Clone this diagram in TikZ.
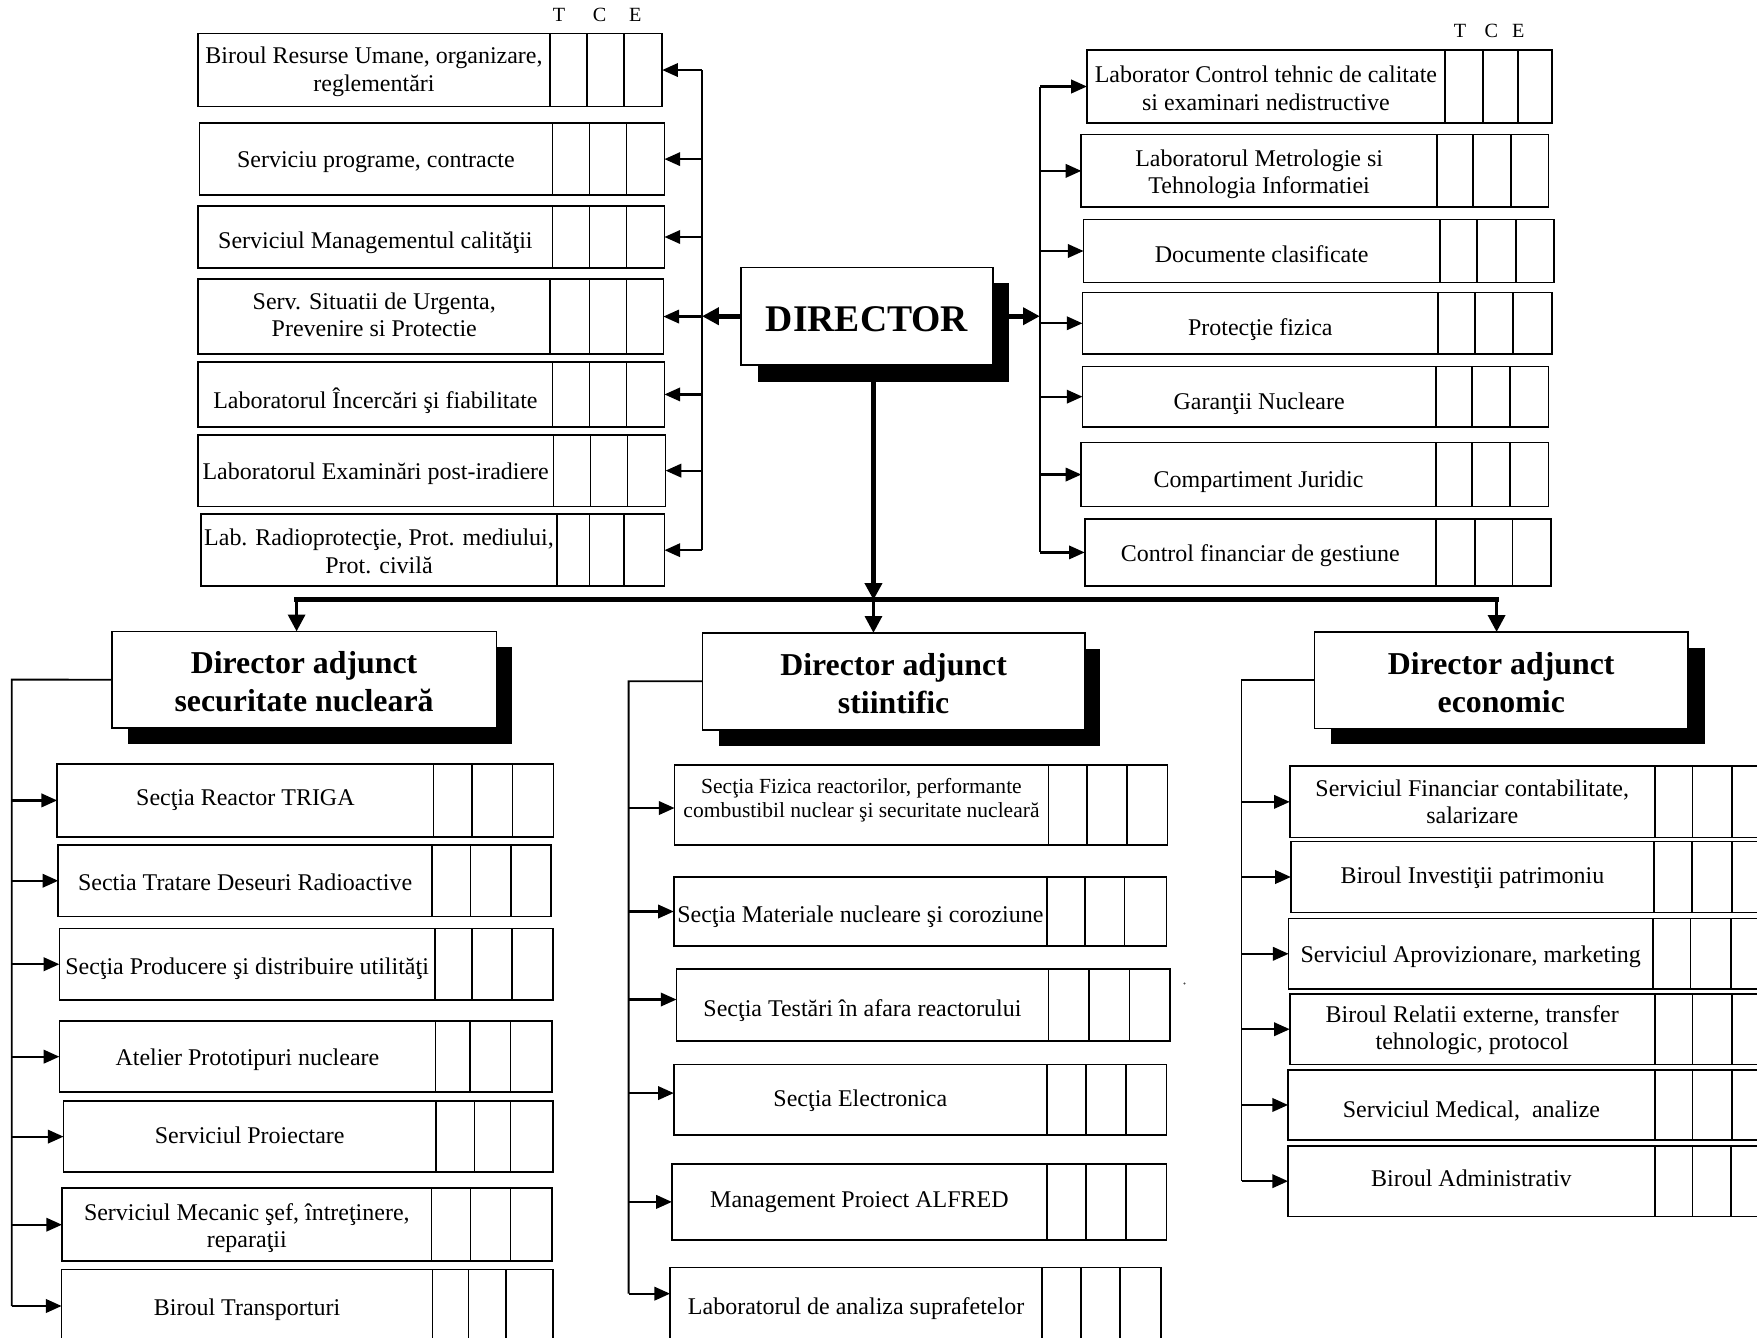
\documentclass[tikz,border=0pt]{standalone}
\usepackage{fontspec}
\setmainfont{Liberation Serif}
\usetikzlibrary{arrows.meta}
\newcommand\lblfont{\fontsize{10.7}{12.3}\selectfont}
\tikzset{
  bx/.style={draw, line width=0.75pt, fill=white, inner sep=0pt, outer sep=0pt, anchor=north west},
  cl/.style={line width=0.75pt},
  lbl/.style={align=center, inner sep=0pt, font=\lblfont},
  hd/.style={align=center, inner sep=0pt, font=\fontsize{14.2}{17}\selectfont\bfseries},
  hdir/.style={inner sep=0pt, font=\fontsize{16.8}{20}\selectfont\bfseries},
  tce/.style={inner sep=0pt, font=\fontsize{9}{10}\selectfont},
  arr/.style={line width=1pt, -{Triangle[length=7pt,width=6pt]}},
  bus/.style={line width=0.8pt},
  thk/.style={line width=2.2pt, -{Triangle[length=7.5pt,width=7.5pt]}},
  thkd/.style={line width=1.6pt, -{Triangle[length=7.5pt,width=7.5pt]}},
  barline/.style={line width=2.2pt, line cap=rect},
  shd/.style={fill=black},
}
\newcommand\tys{0pt}
\newcommand\ob[9]{%
  \node[bx, minimum width={(#7-#2)*0.5pt}, minimum height={(#8-#3)*0.5pt}] (#1) at (#2,#3) {};
  \draw[cl] (#4,#3) -- (#4,#8) (#5,#3) -- (#5,#8) (#6,#3) -- (#6,#8);
  \node[lbl, yshift=\tys-1.5pt] (#1t) at ({(#2+#4)/2},{(#3+#8)/2}) {#9};
}
\begin{document}
\begin{tikzpicture}[x=0.5pt, y=-0.5pt]
\useasboundingbox (0,0) rectangle (1568,1194);
\clip (0,0) rectangle (1568,1194);

% ---------- T C E headers
\node[tce] (tl) at (499,13.7) {T};
\node[tce] (cl) at (535,13.7) {C};
\node[tce] (el) at (567,13.7) {E};
\node[tce] (tr) at (1303,27.3) {T};
\node[tce] (cr) at (1331,27.3) {C};
\node[tce] (er) at (1355,27.3) {E};

% ---------- top left boxes
\renewcommand\tys{0.7pt}
\ob{t1}{176.5}{30}{491}{524}{557}{591}{95}{Biroul Resurse Umane, organizare,\\reglementări}
\renewcommand\tys{0pt}
\ob{t2}{178}{110}{493}{526}{559}{593}{174}{Serviciu programe, contracte}
\renewcommand\tys{-1.2pt}
\ob{t3}{177}{184}{493}{526}{559}{593}{239}{Serviciul Managementul calităţii}
\renewcommand\tys{2.2pt}
\ob{t4}{177}{249}{491}{526}{559}{592}{316}{Serv. Situatii de Urgenta,\\Prevenire si Protectie}
\renewcommand\tys{-1.5pt}
\ob{t5}{177}{323}{493}{526}{559}{593}{381}{Laboratorul Încercări şi fiabilitate}
\renewcommand\tys{0pt}
\ob{t6}{176.5}{388}{494}{527}{560}{594}{452}{Laboratorul Examinări post-iradiere}
\renewcommand\tys{1pt}
\ob{t7}{179.5}{459}{497}{526}{557}{593}{523}{Lab. Radioprotecţie, Prot. mediului,\\Prot. civilă}

% ---------- top right boxes
\renewcommand\tys{0.8pt}
\ob{r1}{970}{44.4}{1289.4}{1323.3}{1354.8}{1385}{110}{Laborator Control tehnic de calitate\\si examinari nedistructive}
\renewcommand\tys{0pt}
\ob{r2}{965}{120}{1282.4}{1314.3}{1348.3}{1382}{185}{Laboratorul Metrologie si\\Tehnologia Informatiei}
\ob{r3}{967}{196}{1285}{1318}{1353}{1387}{252}{Documente clasificate}
\renewcommand\tys{-1.5pt}
\ob{r4}{966}{261}{1283.4}{1316.4}{1350.3}{1385}{316}{Protecţie fizica}
\ob{r5}{966}{327}{1281.4}{1313.4}{1347.8}{1382}{381}{Garanţii Nucleare}
\ob{r6}{965}{395}{1281.4}{1313.4}{1347.8}{1382}{452}{Compartiment Juridic}
\renewcommand\tys{0pt}
\ob{r7}{968}{463}{1281.4}{1316.3}{1349.8}{1384}{523}{Control financiar de gestiune}

% ---------- DIRECTOR
\fill[shd] (676.8,252.8) rectangle (900.2,340.7);
\node[bx, minimum width={(886.3-661.3)*0.5pt}, minimum height={(325.8-238.6)*0.5pt}] (dir) at (661.3,238.6) {};
\node[hdir, yshift=-1.2pt] (dirt) at (dir.center) {DIRECTOR};

% ---------- deputy directors
\fill[shd] (114.4,577.4) rectangle (457,664);
\node[bx, minimum width={(443-99.7)*0.5pt}, minimum height={(649.6-563.5)*0.5pt}] (da1) at (99.7,563.5) {};
\node[hd, yshift=-1pt] (da1t) at (da1.center) {Director adjunct\\securitate nucleară};
\fill[shd] (641.6,579) rectangle (982,666);
\node[bx, minimum width={(968-627)*0.5pt}, minimum height={(651.3-564.8)*0.5pt}] (da2) at (627,564.8) {};
\node[hd, yshift=-1pt] (da2t) at (da2.center) {Director adjunct\\stiintific};
\fill[shd] (1187.9,578) rectangle (1521.4,664);
\node[bx, minimum width={(1506.5-1173)*0.5pt}, minimum height={(650-564)*0.5pt}] (da3) at (1173,564) {};
\node[hd, yshift=-1pt] (da3t) at (da3.center) {Director adjunct\\economic};

% ---------- bottom left boxes
\renewcommand\tys{1.6pt}
\ob{l1}{51}{681.6}{387}{421}{457.3}{494}{747}{Secţia Reactor TRIGA}
\renewcommand\tys{1pt}
\ob{l2}{52}{754}{385.5}{420}{456}{492}{818}{Sectia Tratare Deseuri Radioactive}
\renewcommand\tys{-0.7pt}
\ob{l3}{53}{828.6}{388}{421}{457}{493.5}{892.4}{Secţia Producere şi distribuire utilităţi}
\renewcommand\tys{0pt}
\ob{l4}{53}{911.3}{388.6}{419.4}{455.6}{492.5}{974.7}{Atelier Prototipuri nucleare}
\renewcommand\tys{2.2pt}
\ob{l5}{56.7}{982.7}{389}{423.5}{455.6}{493.5}{1046}{Serviciul Proiectare}
\renewcommand\tys{0pt}
\ob{l6}{55.3}{1060.4}{385.2}{420}{455.6}{492.5}{1125.5}{Serviciul Mecanic şef, întreţinere,\\reparaţii}
\ob{l7}{55}{1133}{386}{418}{451.5}{493.5}{1198}{Biroul Transporturi}

% ---------- middle boxes
\renewcommand\tys{3.5pt}
\renewcommand\lblfont{\fontsize{9.6}{11}\selectfont}
\ob{m1}{602}{682.4}{935.6}{969.8}{1005.6}{1042}{753.8}{Secţia Fizica reactorilor, performante\\combustibil nuclear şi securitate nucleară}
\renewcommand\lblfont{\fontsize{10.7}{12.3}\selectfont}
\renewcommand\tys{-0.7pt}
\ob{m2}{601.3}{782.4}{934.3}{968.4}{1003.6}{1041}{844.5}{Secţia Materiale nucleare şi coroziune}
\renewcommand\tys{-1pt}
\ob{m3}{603.7}{865}{935.6}{971.8}{1008}{1044}{929}{Secţia Testări în afara reactorului}
\renewcommand\tys{1.2pt}
\ob{m4}{601.3}{950}{934.3}{969}{1005}{1041}{1013}{Secţia Electronica}
\ob{m5}{599.6}{1038.6}{934.3}{969}{1005}{1041}{1106.6}{Management Proiect ALFRED}
\renewcommand\tys{0pt}
\ob{m6}{598}{1131}{930}{965}{999.8}{1036}{1198}{Laboratorul de analiza suprafetelor}

% ---------- bottom right boxes
\renewcommand\tys{1.5pt}
\ob{e1}{1151}{683.7}{1476.7}{1510.3}{1545.5}{1580}{747.5}{Serviciul Financiar contabilitate,\\salarizare}
\renewcommand\tys{1.3pt}
\ob{e2}{1152}{751}{1476}{1510}{1545.5}{1580}{814.3}{Biroul Investiţii patrimoniu}
\renewcommand\tys{0pt}
\ob{e3}{1150}{819.7}{1475}{1508.5}{1544.5}{1580}{882.7}{Serviciul Aprovizionare, marketing}
\renewcommand\tys{1pt}
\ob{e4}{1151}{887}{1476.7}{1510.3}{1545.5}{1580}{950}{Biroul Relatii externe, transfer\\tehnologic, protocol}
\renewcommand\tys{-1pt}
\ob{e5}{1149.5}{954.6}{1476.7}{1510.3}{1545.5}{1580}{1017.6}{Serviciul Medical,~ analize}
\renewcommand\tys{3pt}
\ob{e6}{1149.5}{1022.6}{1476.7}{1510.3}{1545}{1580}{1085.6}{Biroul Administrativ}
\renewcommand\tys{0pt}

% ---------- connectors from DIRECTOR
\coordinate (lb) at (626.5,282.2);
\coordinate (rb) at (928,282.2);
\draw[thk] (dir.west) -- (lb);
\draw[thk] (dir.east) -- (rb);
\draw[bus] (t1.east -| lb) -- (t7.east -| lb);
\draw[bus] (r1.west -| rb) -- (r7.west -| rb);
\foreach \n in {t1,t2,t3,t4,t5,t6,t7} \draw[arr] (\n.east -| lb) -- (\n.east);
\foreach \n in {r1,r2,r3,r4,r5,r6,r7} \draw[arr] (\n.west -| rb) -- (\n.west);

\coordinate (j1) at (264.7,535.4);
\coordinate (j2) at (779.5,535.4);
\coordinate (j3) at (1335.6,535.4);
\draw[thk] (dir.south -| j2) -- (j2);
\draw[barline] (j1) -- (j3);
\draw[thkd] (j1) -- (j1 |- da1.north);
\draw[thkd] (j2) -- (j2 |- da2.north);
\draw[thkd] (j3) -- (j3 |- da3.north);

% ---------- brackets under deputies
\coordinate (b1) at (10.5,606.5);
\coordinate (b2) at (561,608);
\coordinate (b3) at (1108,607);
\coordinate (m1a) at ([yshift=-1.5pt]m1.west);
\coordinate (m3a) at ([yshift=2.5pt]m3.west);
\coordinate (m4a) at ([yshift=3pt]m4.west);
\coordinate (m6a) at ([yshift=5pt]m6.west);
\draw[bus] (da1.west) -- (b1) -- (b1 |- l7.west);
\foreach \n in {l1,l2,l3,l4,l5,l6,l7} \draw[arr] (b1 |- \n.west) -- (\n.west);
\draw[bus] (da2.west) -- (b2) -- (b2 |- m6a);
\foreach \n in {m1a,m2.west,m3a,m4a,m5.west,m6a} \draw[arr] (b2 |- \n) -- (\n);
\draw[bus] (da3.west) -- (b3) -- (b3 |- e6.west);
\foreach \n in {e1,e2,e3,e4,e5,e6} \draw[arr] (b3 |- \n.west) -- (\n.west);

% stray dot
\fill[black!70] (1057,877.7) circle (0.5pt);
\end{tikzpicture}
\end{document}
